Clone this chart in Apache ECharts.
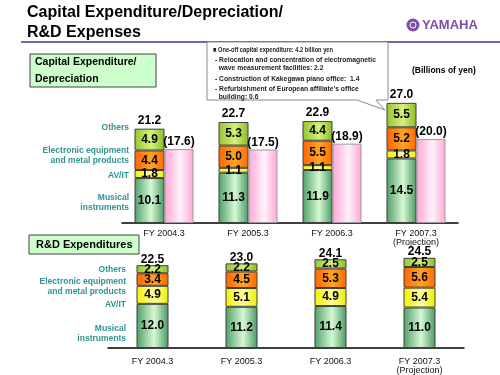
<!DOCTYPE html>
<html><head><meta charset="utf-8">
<script src="https://cdn.jsdelivr.net/npm/echarts@6/dist/echarts.min.js"></script>
<style>html,body{margin:0;padding:0;background:#fff}#c{width:500px;height:375px}</style>
</head><body><div id="c"></div>
<script>
const categories = ['FY 2004.3', 'FY 2005.3', 'FY 2006.3', 'FY 2007.3\n(Projection)'];
const segmentNames = ['Musical instruments', 'AV/IT', 'Electronic equipment and metal products', 'Others'];
// Capital expenditure (billions of yen)
const capexMusical = [10.1, 11.3, 11.9, 14.5];
const capexAVIT = [1.8, 1.1, 1.1, 1.8];
const capexElectronic = [4.4, 5.0, 5.5, 5.2];
const capexOthers = [4.9, 5.3, 4.4, 5.5];
const capexTotals = [21.2, 22.7, 22.9, 27.0];
const depreciation = [17.6, 17.5, 18.9, 20.0];
// R&D expenditures
const rdMusical = [12.0, 11.2, 11.4, 11.0];
const rdAVIT = [4.9, 5.1, 4.9, 5.4];
const rdElectronic = [3.4, 4.5, 5.3, 5.6];
const rdOthers = [2.2, 2.2, 2.5, 2.5];
const rdTotals = [22.5, 23.0, 24.1, 24.5];

const FONT = 'Liberation Sans, Arial, sans-serif';
const G = (a, b, c) => new echarts.graphic.LinearGradient(0, 0, 1, 0, [
  {offset: 0, color: a}, {offset: 0.55, color: b}, {offset: 1, color: c}]);
const colGreen = () => G('#4f9f68', '#d6f8d4', '#4a9864');
const colYellow = () => G('#f2f200', '#ffffa0', '#eeee00');
const colOrange = () => G('#ff6400', '#ffa426', '#ff6a00');
const colOthers = () => G('#93c52e', '#d6f07c', '#8abb26');
const colPink = () => G('#ffa6d6', '#fff2fa', '#ffa6d6');
const fillCols = [colGreen, colYellow, colOrange, colOthers];

const chart = echarts.init(document.getElementById('c'), null, {renderer: 'canvas'});

function stackSeries(idx, arrays, totals, stack, barWidth, totDist) {
  const out = arrays.map((arr, i) => ({
    name: segmentNames[i], type: 'bar', xAxisIndex: idx, yAxisIndex: idx, stack: stack,
    barWidth: barWidth, data: arr,
    itemStyle: {color: fillCols[i](), borderColor: '#3f3f3f', borderWidth: 1},
    label: {show: true, position: 'inside', color: '#000', fontFamily: FONT, fontWeight: 'bold',
      fontSize: 12, formatter: p => p.value.toFixed(1)},
    emphasis: {disabled: true}, animation: false
  }));
  out.push({
    name: 'Total', type: 'bar', xAxisIndex: idx, yAxisIndex: idx, stack: stack, barWidth: barWidth,
    data: totals.map(() => 0), itemStyle: {color: 'transparent', borderWidth: 0},
    label: {show: true, position: 'top', distance: totDist, color: '#000', fontFamily: FONT, fontWeight: 'bold',
      fontSize: 12, formatter: p => totals[p.dataIndex].toFixed(1)},
    emphasis: {disabled: true}, animation: false
  });
  return out;
}

const series = [].concat(
  stackSeries(0, [capexMusical, capexAVIT, capexElectronic, capexOthers], capexTotals, 'capex', 30, 2),
  [{
    name: 'Depreciation', type: 'bar', xAxisIndex: 0, yAxisIndex: 2, barWidth: 29, barGap: '0%',
    data: depreciation, itemStyle: {color: colPink(), borderColor: '#9a9a9a', borderWidth: 1},
    label: {show: true, position: 'top', distance: 1, color: '#000', fontFamily: FONT, fontWeight: 'bold',
      fontSize: 12, formatter: p => '(' + p.value.toFixed(1) + ')'},
    emphasis: {disabled: true}, animation: false
  }],
  stackSeries(1, [rdMusical, rdAVIT, rdElectronic, rdOthers], rdTotals, 'rd', 32, 0)
);
series[4].barGap = '0%';

const teal = '#2f9393';
function leftLabel(x, y, text) {
  return {type: 'text', x: x, y: y, style: {text: text, fill: teal, font: 'bold 8.5px ' + FONT,
    textAlign: 'right', textVerticalAlign: 'middle', lineHeight: 10}};
}
const noteLines = [
  ['\u25A0 One-off capital expenditure: 4.2 billion yen', 50, 213],
  ['- Relocation and concentration of electromagnetic', 60, 215],
  ['  wave measurement facilities: 2.2', 68, 215],
  ['- Construction of Kakegawa piano office:  1.4', 79, 215],
  ['- Refurbishment of European affiliate\u2019s office', 89, 215],
  ['  building: 0.6', 97, 215]
];

const graphics = [
  {type: 'text', x: 27, y: 13, style: {text: 'Capital Expenditure/Depreciation/', fill: '#000', font: 'bold 16px ' + FONT, textVerticalAlign: 'middle'}},
  {type: 'text', x: 27, y: 32.5, style: {text: 'R&D Expenses', fill: '#000', font: 'bold 16px ' + FONT, textVerticalAlign: 'middle'}},
  {type: 'rect', shape: {x: 21, y: 41, width: 479, height: 2}, style: {fill: '#7a62b0'}},
  {type: 'circle', shape: {cx: 413, cy: 25, r: 6.5}, style: {fill: '#7a4fa8'}},
  {type: 'circle', shape: {cx: 413, cy: 25, r: 3}, style: {fill: 'none', stroke: '#fff', lineWidth: 1}},
  {type: 'text', x: 422, y: 25, style: {text: 'YAMAHA', fill: '#7a4fa8', font: 'bold 13px ' + FONT, textVerticalAlign: 'middle'}},
  {type: 'rect', shape: {x: 30, y: 54, width: 126, height: 33}, style: {fill: '#ccffcc', stroke: '#444', lineWidth: 1}},
  {type: 'text', x: 35, y: 62, style: {text: 'Capital Expenditure/', fill: '#000', font: 'bold 10.5px ' + FONT, textVerticalAlign: 'middle'}},
  {type: 'text', x: 35, y: 79, style: {text: 'Depreciation', fill: '#000', font: 'bold 10.5px ' + FONT, textVerticalAlign: 'middle'}},
  {type: 'rect', shape: {x: 29, y: 235, width: 110, height: 19}, style: {fill: '#ccffcc', stroke: '#444', lineWidth: 1}},
  {type: 'text', x: 36, y: 245, style: {text: 'R&D Expenditures', fill: '#000', font: 'bold 11px ' + FONT, textVerticalAlign: 'middle'}},
  {type: 'polygon', shape: {points: [[207, 42], [388, 42], [388, 100], [376, 100], [385, 110], [357, 100], [207, 100]]},
    style: {fill: '#fff', stroke: '#8a8a8a', lineWidth: 1}},
  {type: 'text', x: 412, y: 71, style: {text: '(Billions of yen)', fill: '#000', font: 'bold 8.5px ' + FONT, textVerticalAlign: 'middle'}},
  leftLabel(129, 128, 'Others'),
  leftLabel(129, 156, 'Electronic equipment\nand metal products'),
  leftLabel(129, 176, 'AV/IT'),
  leftLabel(129, 203, 'Musical\ninstruments'),
  leftLabel(126, 270, 'Others'),
  leftLabel(126, 287, 'Electronic equipment\nand metal products'),
  leftLabel(126, 305, 'AV/IT'),
  leftLabel(126, 334, 'Musical\ninstruments')
];
noteLines.forEach((l, i) => {
  graphics.push({type: 'text', x: l[2], y: l[1], scaleX: i === 0 ? 0.76 : 0.9, scaleY: 1,
    style: {text: l[0], fill: '#222', font: 'bold 7.5px ' + FONT, textVerticalAlign: 'middle'}});
});

const axisCommon = {
  type: 'category', data: categories,
  axisLine: {lineStyle: {color: '#000', width: 1.5}}, axisTick: {show: false},
  axisLabel: {color: '#111', fontFamily: FONT, fontSize: 9, lineHeight: 9, interval: 0}
};

chart.setOption({
  animation: false,
  backgroundColor: '#fff',
  grid: [
    {left: 122, right: 42, top: 89.5, bottom: 152},
    {left: 108, right: 36, top: 256, bottom: 22.5}
  ],
  xAxis: [
    Object.assign({}, axisCommon, {gridIndex: 0, axisLabel: Object.assign({}, axisCommon.axisLabel, {margin: 6})}),
    Object.assign({}, axisCommon, {gridIndex: 1, axisLabel: Object.assign({}, axisCommon.axisLabel, {margin: 9})})
  ],
  yAxis: [
    {type: 'value', gridIndex: 0, min: 0, max: 30, show: false, splitLine: {show: false}},
    {type: 'value', gridIndex: 1, min: 0, max: 25, show: false, splitLine: {show: false}},
    {type: 'value', gridIndex: 0, min: 0, max: 31.8, show: false, splitLine: {show: false}}
  ],
  series: series,
  graphic: graphics
});
</script></body></html>
